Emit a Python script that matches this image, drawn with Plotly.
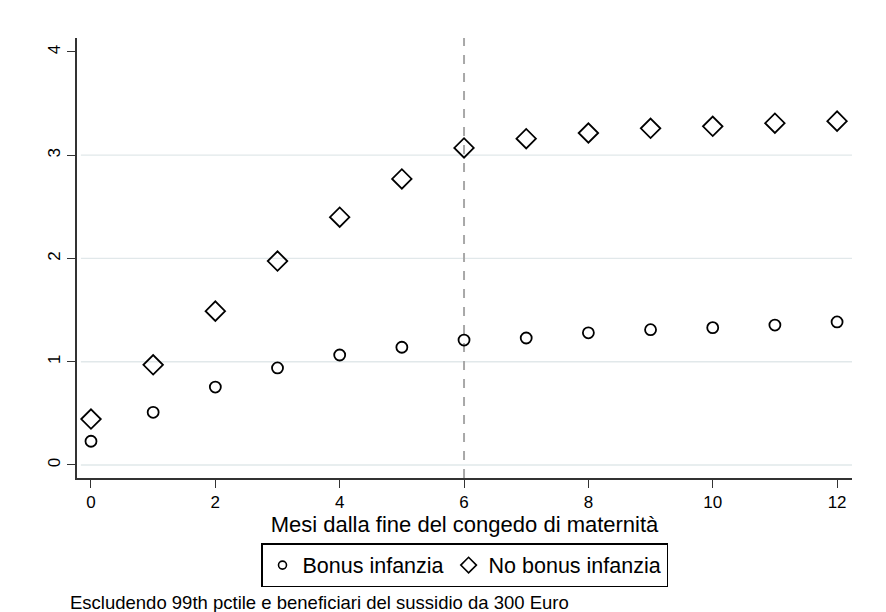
import plotly.graph_objects as go

months = list(range(13))
bonus = [0.23, 0.51, 0.755, 0.94, 1.065, 1.14, 1.21, 1.23, 1.28, 1.31, 1.33, 1.355, 1.385]
no_bonus = [0.445, 0.97, 1.49, 1.975, 2.40, 2.77, 3.07, 3.16, 3.215, 3.26, 3.28, 3.31, 3.33]
x_ticks = [0, 2, 4, 6, 8, 10, 12]
y_ticks = [0, 1, 2, 3, 4]
grid_vals = [0, 1, 2, 3]

fig = go.Figure()
fig.add_trace(go.Scatter(
    x=months, y=bonus, mode="markers", name="Bonus infanzia", showlegend=False,
    marker=dict(symbol="circle-open", size=11, color="black", line=dict(width=1.8, color="black"))))
fig.add_trace(go.Scatter(
    x=months, y=no_bonus, mode="markers", name="No bonus infanzia", showlegend=False,
    marker=dict(symbol="diamond-open", size=15, color="black", line=dict(width=1.8, color="black"))))
# legend entries with smaller symbols
fig.add_trace(go.Scatter(
    x=[None], y=[None], mode="markers", name="Bonus infanzia",
    marker=dict(symbol="circle-open", size=8, color="black", line=dict(width=1.6, color="black"))))
fig.add_trace(go.Scatter(
    x=[None], y=[None], mode="markers", name="No bonus infanzia",
    marker=dict(symbol="diamond-open", size=12, color="black", line=dict(width=1.6, color="black"))))

for g in grid_vals:
    fig.add_shape(type="line", xref="paper", x0=0.005, x1=1, yref="y", y0=g, y1=g,
                  line=dict(color="#e1e8ea", width=1.3), layer="below")
fig.add_shape(type="line", xref="x", x0=6, x1=6, yref="paper", y0=0, y1=1,
              line=dict(color="#a8a8a8", width=2, dash="dash"), layer="below")

fig.update_layout(
    width=878, height=604,
    paper_bgcolor="white", plot_bgcolor="white",
    margin=dict(l=69, r=34, t=30, b=134),
    font=dict(family="Liberation Sans, Arial, sans-serif", color="black"),
    showlegend=True,
    legend=dict(orientation="h", x=0.5, xanchor="center", y=-0.148, yanchor="top",
                bordercolor="black", borderwidth=1.5, font=dict(size=21.5),
                itemsizing="trace", traceorder="normal"),
    xaxis=dict(range=[-0.225, 12.24], tickvals=x_ticks, showgrid=False, zeroline=False,
               showline=True, linecolor="#333", linewidth=1.5, ticks="outside",
               ticklen=8, tickcolor="#333", tickfont=dict(size=17),
               title=dict(text="Mesi dalla fine del congedo di maternità", font=dict(size=22), standoff=0)),
    yaxis=dict(range=[-0.126, 4.135], tickvals=y_ticks, showgrid=False, zeroline=False,
               showline=True, linecolor="#333", linewidth=1.5, ticks="outside",
               ticklen=8, tickcolor="#333", tickfont=dict(size=17), tickangle=-90),
    annotations=[dict(text="Escludendo 99th pctile e beneficiari del sussidio da 300 Euro",
                      xref="paper", yref="paper", x=-0.0116, y=-0.282, xanchor="left", yanchor="middle",
                      showarrow=False, font=dict(size=18.5))],
)

fig.write_html("out.html")
